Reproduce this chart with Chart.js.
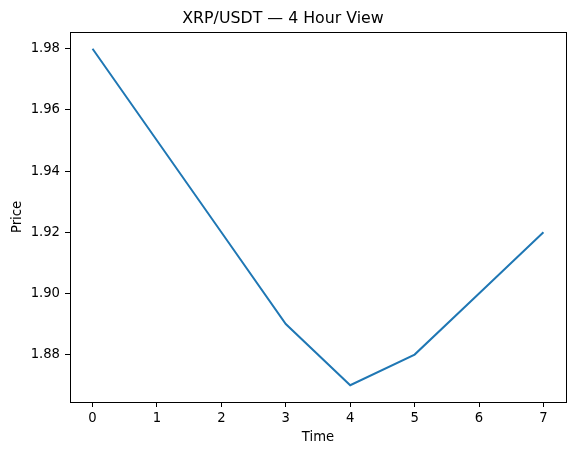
<!DOCTYPE html>
<html><head><meta charset="utf-8">
<script src="https://cdn.jsdelivr.net/npm/chart.js@4"></script>
<style>html,body{margin:0;padding:0;background:#fff;}#wrap{width:576px;height:455px;}</style>
</head><body><div id="wrap"><canvas id="c" width="576" height="455"></canvas></div>
<script>
const timeValues = [0, 1, 2, 3, 4, 5, 6, 7];
const priceValues = [1.98, 1.95, 1.92, 1.89, 1.87, 1.88, 1.90, 1.92];
const xTicks = [0, 1, 2, 3, 4, 5, 6, 7];
const yTicks = [1.88, 1.90, 1.92, 1.94, 1.96, 1.98];

const font = {family: "'DejaVu Sans'", size: 13.2};
const frame = {
  id: 'frame',
  afterDraw(chart) {
    const {ctx, chartArea: a} = chart;
    ctx.save();
    ctx.strokeStyle = '#000';
    ctx.lineWidth = 1;
    ctx.strokeRect(Math.round(a.left) + 0.5, Math.round(a.top) + 0.5, Math.round(a.right - a.left), Math.round(a.bottom - a.top));
    ctx.restore();
  }
};
new Chart(document.getElementById('c'), {
  type: 'line',
  data: {
    datasets: [{
      data: timeValues.map((t, i) => ({x: t, y: priceValues[i]})),
      borderColor: '#1f77b4',
      borderWidth: 2,
      pointRadius: 0,
      tension: 0,
      fill: false
    }]
  },
  options: {
    responsive: false,
    animation: false,
    devicePixelRatio: 1,
    layout: {padding: {left: 0, right: 10, top: 0, bottom: 0}},
    plugins: {
      legend: {display: false},
      tooltip: {enabled: false},
      title: {display: true, text: 'XRP/USDT — 4 Hour View', color: '#000',
        font: {family: "'DejaVu Sans'", size: 15.8, weight: 'normal'}, padding: {top: 9, bottom: 4}}
    },
    scales: {
      x: {
        type: 'linear', min: -0.35, max: 7.35,
        afterBuildTicks: s => { s.ticks = xTicks.map(v => ({value: v})); },
        afterFit: s => { s.height = 53; },
        grid: {display: true, drawOnChartArea: false, drawTicks: true, tickLength: 5, color: '#000'},
        border: {display: false},
        ticks: {color: '#000', font, padding: 4, maxRotation: 0, callback: v => String(v)},
        title: {display: true, text: 'Time', color: '#000', font, padding: {top: 0, bottom: 10}}
      },
      y: {
        type: 'linear', min: 1.8645, max: 1.9855,
        afterBuildTicks: s => { s.ticks = yTicks.map(v => ({value: v})); },
        afterFit: s => { s.width = 70; },
        grid: {display: true, drawOnChartArea: false, drawTicks: true, tickLength: 5, color: '#000'},
        border: {display: false},
        ticks: {color: '#000', font, padding: 5, callback: v => v.toFixed(2)},
        title: {display: true, text: 'Price', color: '#000', font, padding: {top: 10, bottom: 0}}
      }
    }
  },
  plugins: [frame]
});
</script></body></html>
